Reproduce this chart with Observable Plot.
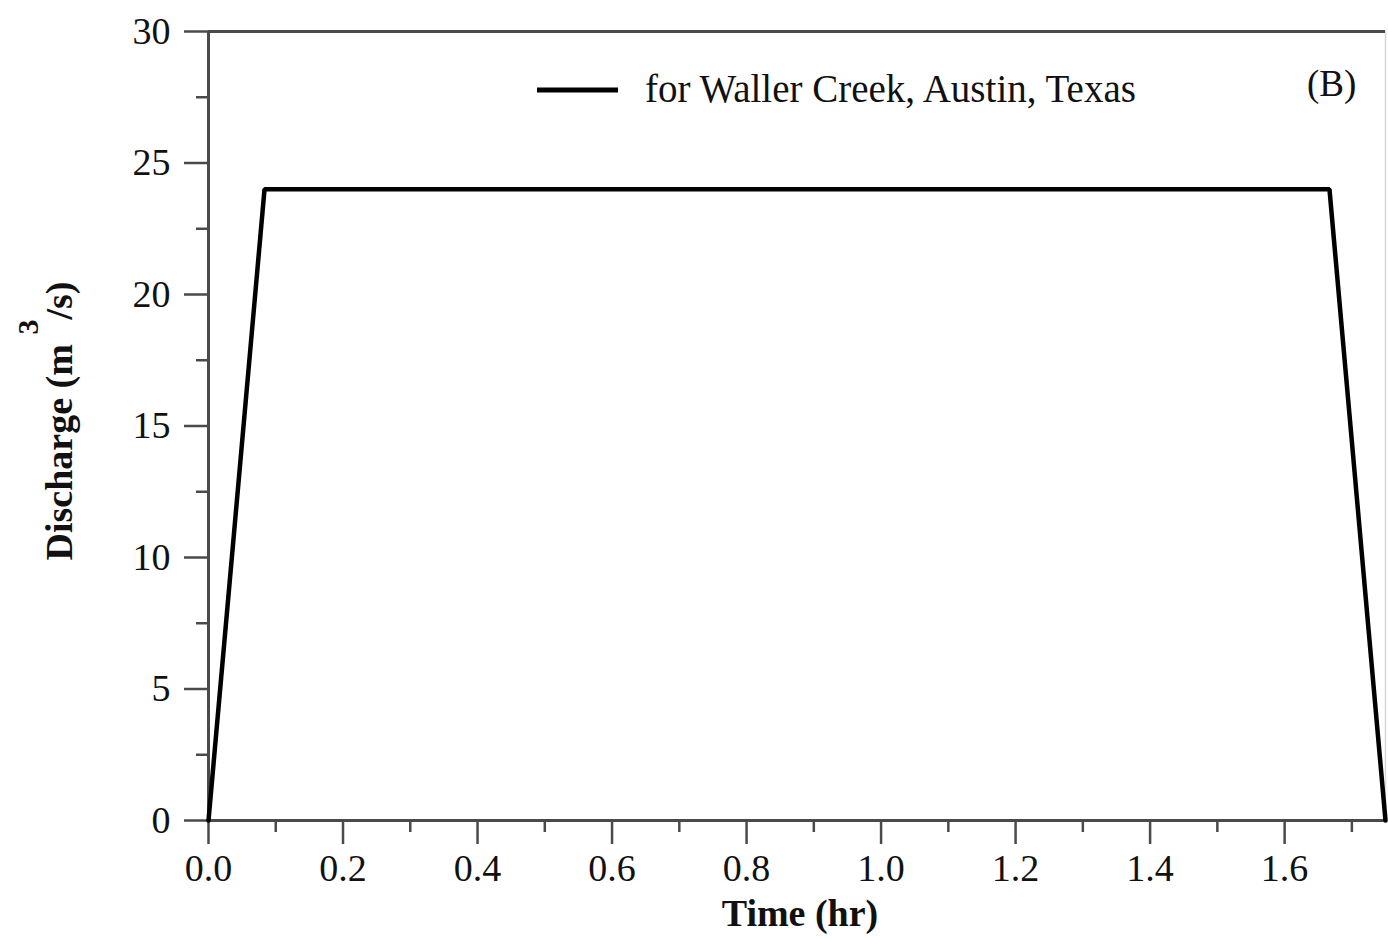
<!DOCTYPE html>
<html>
<head>
<meta charset="utf-8">
<script src="https://cdn.jsdelivr.net/npm/d3@7"></script>
<script src="https://cdn.jsdelivr.net/npm/@observablehq/plot@0.6"></script>
<style>
  html, body { margin: 0; padding: 0; background: #fff; }
  #chart svg { display: block; }
</style>
</head>
<body>
<div id="chart"></div>
<script>
// Data (time in hours, discharge in m^3/s)
const timeHr = [0, 0.0833, 1.6667, 1.75];
const dischargeM3s = [0, 24, 24, 0];

const xMajorTicks = [0, 0.2, 0.4, 0.6, 0.8, 1.0, 1.2, 1.4, 1.6];
const xMinorTicks = [0.1, 0.3, 0.5, 0.7, 0.9, 1.1, 1.3, 1.5, 1.7];
const yMajorTicks = [0, 5, 10, 15, 20, 25, 30];
const yMinorTicks = [2.5, 7.5, 12.5, 17.5, 22.5, 27.5];

const legendLabel = "for Waller Creek, Austin, Texas";
const panelLabel = "(B)";

const data = timeHr.map((t, i) => ({t, q: dischargeM3s[i]}));

const axisColor = "#4a4a4a";

const plot = Plot.plot({
  width: 1388,
  height: 939,
  marginLeft: 208,
  marginRight: 3,
  marginTop: 31,
  marginBottom: 119,
  style: {fontFamily: "'Liberation Serif', 'Times New Roman', serif", fontSize: "38px", color: "#111", background: "#fff"},
  x: {domain: [0, 1.75]},
  y: {domain: [0, 30]},
  marks: [
    Plot.ruleX([1.75], {stroke: "#d8d8d8", strokeWidth: 1.5}),
    Plot.ruleY([30], {stroke: axisColor, strokeWidth: 3}),
    Plot.axisX({ticks: xMinorTicks, tickSize: 12, tickFormat: () => "", stroke: axisColor, strokeWidth: 2.5, label: null}),
    Plot.axisX({ticks: xMajorTicks, tickSize: 24, tickPadding: 10, tickFormat: d3.format(".1f"), stroke: axisColor, strokeWidth: 2.5, fill: "#111", label: null}),
    Plot.axisY({ticks: yMinorTicks, tickSize: 12, tickFormat: () => "", stroke: axisColor, strokeWidth: 2.5, label: null}),
    Plot.axisY({ticks: yMajorTicks, tickSize: 24, tickPadding: 14, stroke: axisColor, strokeWidth: 2.5, fill: "#111", label: null}),
    Plot.ruleY([0], {stroke: axisColor, strokeWidth: 3}),
    Plot.ruleX([0], {stroke: axisColor, strokeWidth: 3}),
    Plot.line(data, {x: "t", y: "q", stroke: "#000", strokeWidth: 4.5, strokeLinejoin: "miter"})
  ]
});

const svg = d3.select(plot);

// Y axis label with raised superscript
const yl = svg.append("text")
  .attr("transform", "translate(72,421) rotate(-90)")
  .attr("text-anchor", "middle")
  .attr("font-weight", "bold")
  .attr("font-size", 38)
  .attr("fill", "#111");
yl.append("tspan").text("Discharge (m ");
yl.append("tspan").attr("font-size", 30).attr("dy", -34).text("3");
yl.append("tspan").attr("dy", 34).text("/s)");

// X axis label
svg.append("text")
  .attr("x", 800).attr("y", 926)
  .attr("text-anchor", "middle")
  .attr("font-weight", "bold")
  .attr("font-size", 38)
  .attr("fill", "#111")
  .text("Time (hr)");

// Legend
svg.append("line")
  .attr("x1", 537).attr("x2", 618).attr("y1", 90).attr("y2", 90)
  .attr("stroke", "#000").attr("stroke-width", 5);
svg.append("text")
  .attr("x", 645).attr("y", 102)
  .attr("text-anchor", "start")
  .attr("font-size", 39)
  .attr("fill", "#111")
  .text(legendLabel);
svg.append("text")
  .attr("x", 1307).attr("y", 96)
  .attr("text-anchor", "start")
  .attr("font-size", 37)
  .attr("fill", "#111")
  .text(panelLabel);

document.getElementById("chart").appendChild(plot);
</script>
</body>
</html>
